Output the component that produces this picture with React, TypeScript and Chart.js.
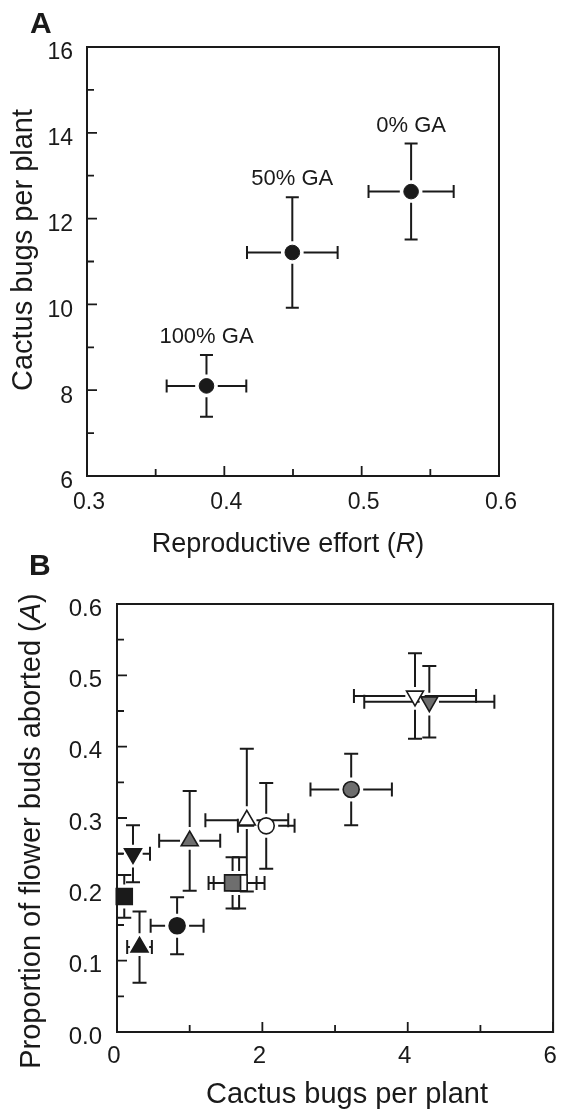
import React, { useEffect, useRef } from 'react';
import { Chart, registerables } from 'chart.js';

Chart.register(...registerables);

const FONT = '"Liberation Sans", Arial, Helvetica, sans-serif';
const INK = '#1a1a1a';
const GREY = '#6e6e6e';
const WHITE = '#ffffff';

// ---------- Panel A data ----------
const gaTreatments = ['100% GA', '50% GA', '0% GA'];
const reproEffort = [0.387, 0.4495, 0.536];
const reproEffortErr = [0.029, 0.033, 0.031];
const bugsPerPlantA = [8.1, 11.21, 12.63];
const bugsPerPlantAErr = [0.72, 1.29, 1.12];
const aXTicks = [0.3, 0.4, 0.5, 0.6];
const aXMinorTicks = [0.35, 0.45, 0.55];
const aYTicks = [6, 8, 10, 12, 14, 16];
const aYMinorTicks = [7, 9, 11, 13, 15];

// ---------- Panel B data ----------
const bShapes = ['triangle', 'rect', 'triangle', 'circle', 'triangle', 'rect', 'rect', 'triangle', 'circle', 'circle', 'triangle', 'triangle'];
const bRotations = [180, 0, 0, 0, 0, 0, 0, 0, 0, 0, 180, 180];
const bFills = [INK, INK, INK, INK, GREY, WHITE, GREY, WHITE, WHITE, GREY, WHITE, GREY];
const bugsPerPlantB = [0.22, 0.1, 0.31, 0.827, 1.0, 1.68, 1.59, 1.786, 2.053, 3.222, 4.1, 4.297];
const bugsPerPlantBErr = [0.234, 0, 0.17, 0.364, 0.42, 0.35, 0.33, 0.57, 0.39, 0.56, 0.84, 0.895];
const budsAborted = [0.25, 0.19, 0.119, 0.149, 0.268, 0.209, 0.209, 0.297, 0.289, 0.34, 0.471, 0.463];
const budsAbortedErr = [0.04, 0.03, 0.05, 0.04, 0.07, 0.036, 0.036, 0.1, 0.06, 0.05, 0.06, 0.05];
const bXTicks = [0, 2, 4, 6];
const bXMinorTicks = [1, 3, 5];
const bYTicks = [0, 0.1, 0.2, 0.3, 0.4, 0.5, 0.6];
const bYMinorTicks = [0.05, 0.15, 0.25, 0.35, 0.45, 0.55];

type Part = [string, boolean];

function drawRich(ctx: CanvasRenderingContext2D, parts: Part[], size: number, x: number, y: number, rotate: boolean) {
  ctx.save();
  ctx.translate(x, y);
  if (rotate) ctx.rotate(-Math.PI / 2);
  const fonts = parts.map(([, it]) => `${it ? 'italic ' : ''}${size}px ${FONT}`);
  let total = 0;
  const widths = parts.map(([t], i) => {
    ctx.font = fonts[i];
    const w = ctx.measureText(t).width;
    total += w;
    return w;
  });
  let cx = -total / 2;
  ctx.textAlign = 'left';
  ctx.textBaseline = 'alphabetic';
  ctx.fillStyle = INK;
  parts.forEach(([t], i) => {
    ctx.font = fonts[i];
    ctx.fillText(t, cx, 0);
    cx += widths[i];
  });
  ctx.restore();
}

function markerExtent(style: string, r: number, rot: number) {
  if (style === 'rect') {
    const s = r * Math.SQRT1_2;
    return { up: s, down: s, side: s };
  }
  if (style === 'triangle') {
    const side = r * 0.577;
    return rot === 180 ? { up: r / 2, down: r, side } : { up: r, down: r / 2, side };
  }
  return { up: r, down: r, side: r };
}

type FrameCfg = {
  letter: string; letterX: number; letterY: number;
  xTitle: Part[]; xTitleX: number; xTitleY: number; xTitleSize: number;
  yTitle: Part[]; yTitleX: number; yTitleY: number; yTitleSize: number;
  xMinor: number[]; yMinor: number[];
  majorLen: number; minorLen: number;
  gap: number; cap: number;
  labels?: string[]; labelSize?: number; labelLift?: number;
};

function makePlugin(cfg: FrameCfg) {
  return {
    id: 'frameAndErrors',
    beforeDatasetsDraw(chart: any) {
      const { ctx, chartArea: a, scales } = chart;
      const xs = scales.x;
      const ys = scales.y;
      ctx.save();
      ctx.strokeStyle = INK;
      ctx.lineWidth = 2;
      ctx.strokeRect(a.left, a.top, a.right - a.left, a.bottom - a.top);
      ctx.lineWidth = 1.8;
      ctx.beginPath();
      xs.ticks.forEach((t: any) => {
        const p = xs.getPixelForValue(t.value);
        ctx.moveTo(p, a.bottom);
        ctx.lineTo(p, a.bottom - cfg.majorLen);
      });
      cfg.xMinor.forEach((v) => {
        const p = xs.getPixelForValue(v);
        ctx.moveTo(p, a.bottom);
        ctx.lineTo(p, a.bottom - cfg.minorLen);
      });
      ys.ticks.forEach((t: any) => {
        const p = ys.getPixelForValue(t.value);
        ctx.moveTo(a.left, p);
        ctx.lineTo(a.left + cfg.majorLen, p);
      });
      cfg.yMinor.forEach((v) => {
        const p = ys.getPixelForValue(v);
        ctx.moveTo(a.left, p);
        ctx.lineTo(a.left + cfg.minorLen, p);
      });
      ctx.stroke();

      // error bars
      ctx.beginPath();
      ctx.rect(a.left, a.top, a.right - a.left, a.bottom - a.top);
      ctx.clip();
      ctx.lineWidth = 2;
      ctx.strokeStyle = INK;
      chart.data.datasets.forEach((ds: any) => {
        ds.data.forEach((d: any, i: number) => {
          const px = xs.getPixelForValue(d.x);
          const py = ys.getPixelForValue(d.y);
          const r = Array.isArray(ds.pointRadius) ? ds.pointRadius[i] : ds.pointRadius;
          const st = Array.isArray(ds.pointStyle) ? ds.pointStyle[i] : ds.pointStyle;
          const rot = Array.isArray(ds.pointRotation) ? ds.pointRotation[i] : 0;
          const e = markerExtent(st, r, rot);
          ctx.beginPath();
          if (d.yErr > 0) {
            const t = ys.getPixelForValue(d.y + d.yErr);
            const b = ys.getPixelForValue(d.y - d.yErr);
            if (py - e.up - cfg.gap > t) {
              ctx.moveTo(px, py - e.up - cfg.gap);
              ctx.lineTo(px, t);
            }
            ctx.moveTo(px - cfg.cap, t);
            ctx.lineTo(px + cfg.cap, t);
            if (py + e.down + cfg.gap < b) {
              ctx.moveTo(px, py + e.down + cfg.gap);
              ctx.lineTo(px, b);
            }
            ctx.moveTo(px - cfg.cap, b);
            ctx.lineTo(px + cfg.cap, b);
          }
          if (d.xErr > 0) {
            const l = xs.getPixelForValue(d.x - d.xErr);
            const rr = xs.getPixelForValue(d.x + d.xErr);
            if (px - e.side - cfg.gap > l) {
              ctx.moveTo(px - e.side - cfg.gap, py);
              ctx.lineTo(l, py);
            }
            ctx.moveTo(l, py - cfg.cap);
            ctx.lineTo(l, py + cfg.cap);
            if (px + e.side + cfg.gap < rr) {
              ctx.moveTo(px + e.side + cfg.gap, py);
              ctx.lineTo(rr, py);
            }
            ctx.moveTo(rr, py - cfg.cap);
            ctx.lineTo(rr, py + cfg.cap);
          }
          ctx.stroke();
        });
      });
      ctx.restore();
    },
    afterDraw(chart: any) {
      const { ctx, scales } = chart;
      ctx.save();
      ctx.fillStyle = INK;
      ctx.font = `bold 30px ${FONT}`;
      ctx.textAlign = 'left';
      ctx.textBaseline = 'alphabetic';
      ctx.fillText(cfg.letter, cfg.letterX, cfg.letterY);
      ctx.restore();
      drawRich(ctx, cfg.xTitle, cfg.xTitleSize, cfg.xTitleX, cfg.xTitleY, false);
      drawRich(ctx, cfg.yTitle, cfg.yTitleSize, cfg.yTitleX, cfg.yTitleY, true);
      if (cfg.labels) {
        const ds = chart.data.datasets[0];
        ctx.save();
        ctx.fillStyle = INK;
        ctx.font = `${cfg.labelSize}px ${FONT}`;
        ctx.textAlign = 'center';
        ctx.textBaseline = 'alphabetic';
        ds.data.forEach((d: any, i: number) => {
          const px = scales.x.getPixelForValue(d.x);
          const top = scales.y.getPixelForValue(d.y + d.yErr);
          ctx.fillText(cfg.labels![i], px, top - (cfg.labelLift || 12));
        });
        ctx.restore();
      }
    },
  };
}

function scaleOpts(opts: {
  min: number; max: number; ticks: number[]; fmt: (v: number) => string; size: number;
  padding: number; labelOffset: number; horizontal: boolean; thickness: number;
}) {
  return {
    type: 'linear',
    min: opts.min,
    max: opts.max,
    grid: { display: false, drawTicks: false },
    border: { display: false },
    afterBuildTicks: (scale: any) => {
      scale.ticks = opts.ticks.map((v) => ({ value: v }));
    },
    afterFit: (scale: any) => {
      if (opts.horizontal) {
        scale.height = opts.thickness;
        scale.paddingLeft = 0;
        scale.paddingRight = 0;
      } else {
        scale.width = opts.thickness;
        scale.paddingTop = 0;
        scale.paddingBottom = 0;
      }
    },
    ticks: {
      color: INK,
      font: { family: FONT, size: opts.size },
      padding: opts.padding,
      labelOffset: opts.labelOffset,
      maxRotation: 0,
      minRotation: 0,
      autoSkip: false,
      callback: (v: any) => opts.fmt(Number(v)),
    },
  };
}

function PanelA() {
  const ref = useRef<HTMLCanvasElement>(null);
  useEffect(() => {
    if (!ref.current) return;
    const data = reproEffort.map((x, i) => ({
      x,
      y: bugsPerPlantA[i],
      xErr: reproEffortErr[i],
      yErr: bugsPerPlantAErr[i],
    }));
    const chart = new Chart(ref.current, {
      type: 'scatter',
      data: {
        datasets: [
          {
            label: 'GA treatments',
            data,
            pointStyle: 'circle',
            pointRadius: 7.3,
            pointBackgroundColor: INK,
            pointBorderColor: INK,
            pointBorderWidth: 1,
            clip: false,
          } as any,
        ],
      },
      options: {
        responsive: false,
        animation: false,
        events: [],
        layout: { padding: { left: 0, top: 47, right: 67, bottom: 0 } },
        plugins: { legend: { display: false }, tooltip: { enabled: false } },
        scales: {
          x: scaleOpts({ min: 0.3, max: 0.6, ticks: aXTicks, fmt: (v) => v.toFixed(1), size: 23, padding: 13, labelOffset: 2, horizontal: true, thickness: 94 }) as any,
          y: scaleOpts({ min: 6, max: 16, ticks: aYTicks, fmt: (v) => String(v), size: 23, padding: 14, labelOffset: 6, horizontal: false, thickness: 87 }) as any,
        },
      },
      plugins: [
        makePlugin({
          letter: 'A', letterX: 30, letterY: 33,
          xTitle: [['Reproductive effort (', false], ['R', true], [')', false]],
          xTitleX: 288, xTitleY: 552, xTitleSize: 27,
          yTitle: [['Cactus bugs per plant', false]],
          yTitleX: 32, yTitleY: 250, yTitleSize: 29,
          xMinor: aXMinorTicks, yMinor: aYMinorTicks,
          majorLen: 10, minorLen: 7, gap: 4, cap: 6.5,
          labels: gaTreatments, labelSize: 22, labelLift: 12,
        }) as any,
      ],
    });
    return () => chart.destroy();
  }, []);
  return <canvas ref={ref} width={566} height={570} style={{ position: 'absolute', left: 0, top: 0 }} />;
}

function PanelB() {
  const ref = useRef<HTMLCanvasElement>(null);
  useEffect(() => {
    if (!ref.current) return;
    const data = bugsPerPlantB.map((x, i) => ({
      x,
      y: budsAborted[i],
      xErr: bugsPerPlantBErr[i],
      yErr: budsAbortedErr[i],
    }));
    const radii = bShapes.map((s) => (s === 'rect' ? 11.3 : s === 'triangle' ? 9.8 : 8));
    const chart = new Chart(ref.current, {
      type: 'scatter',
      data: {
        datasets: [
          {
            label: 'Populations',
            data,
            pointStyle: bShapes,
            pointRotation: bRotations,
            pointRadius: radii,
            pointBackgroundColor: bFills,
            pointBorderColor: INK,
            pointBorderWidth: 1.6,
            clip: false,
          } as any,
        ],
      },
      options: {
        responsive: false,
        animation: false,
        events: [],
        layout: { padding: { left: 0, top: 64, right: 4, bottom: 0 } },
        plugins: { legend: { display: false }, tooltip: { enabled: false } },
        scales: {
          x: scaleOpts({ min: 0, max: 6, ticks: bXTicks, fmt: (v) => String(v), size: 24, padding: 10, labelOffset: -3, horizontal: true, thickness: 83 }) as any,
          y: scaleOpts({ min: 0, max: 0.6, ticks: bYTicks, fmt: (v) => v.toFixed(1), size: 24, padding: 15, labelOffset: 5, horizontal: false, thickness: 117 }) as any,
        },
      },
      plugins: [
        makePlugin({
          letter: 'B', letterX: 29, letterY: 35,
          xTitle: [['Cactus bugs per plant', false]],
          xTitleX: 347, xTitleY: 563, xTitleSize: 29,
          yTitle: [['Proportion of flower buds aborted (', false], ['A', true], [')', false]],
          yTitleX: 40, yTitleY: 291, yTitleSize: 29,
          xMinor: bXMinorTicks, yMinor: bYMinorTicks,
          majorLen: 10, minorLen: 7, gap: 4, cap: 7,
        }) as any,
      ],
    });
    return () => chart.destroy();
  }, []);
  return <canvas ref={ref} width={566} height={575} style={{ position: 'absolute', left: 0, top: 540 }} />;
}

export default function App() {
  return (
    <div style={{ position: 'absolute', left: 0, top: 0, width: 566, height: 1115, background: '#fff', overflow: 'hidden' }}>
      <PanelA />
      <PanelB />
    </div>
  );
}
